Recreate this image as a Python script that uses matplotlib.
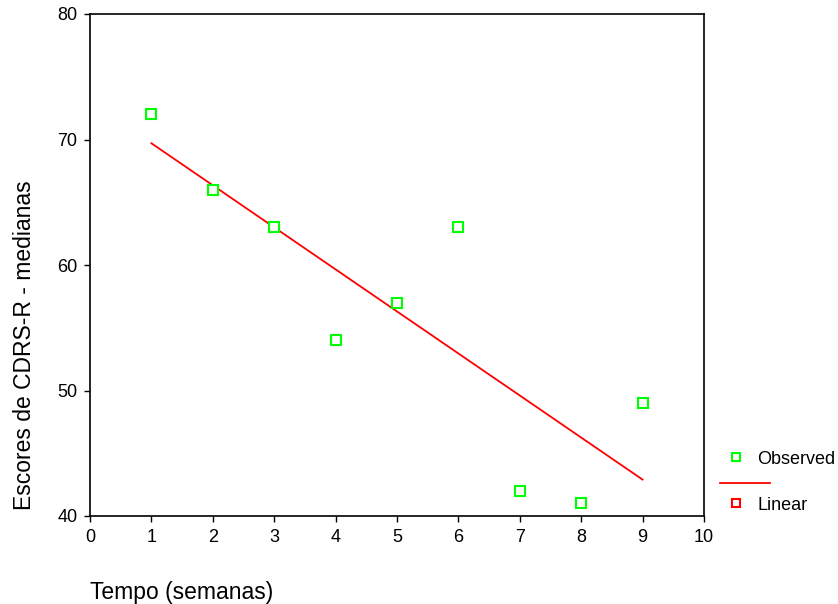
import matplotlib
matplotlib.use("Agg")
import matplotlib.pyplot as plt
from matplotlib.lines import Line2D

plt.rcParams['font.family'] = ['Liberation Sans', 'DejaVu Sans']

weeks = [1, 2, 3, 4, 5, 6, 7, 8, 9]
medians = [72, 66, 63, 54, 57, 63, 42, 41, 49]
fit_x = [1, 9]
fit_y = [69.7, 42.9]
x_ticks = [0, 1, 2, 3, 4, 5, 6, 7, 8, 9, 10]
y_ticks = [40, 50, 60, 70, 80]

fig = plt.figure(figsize=(8.38, 6.04), dpi=100)
ax = fig.add_axes([90/838, 1-516/604, (704-90)/838, (516-14)/604])

ax.plot(fit_x, fit_y, color='#ff0000', lw=1.3, zorder=2)
ax.plot(weeks, medians, ls='none', marker='s', ms=6.5, mfc='white', mec='#00ff00', mew=1.5, zorder=3)

ax.set_xlim(0, 10)
ax.set_ylim(40, 80)
ax.set_xticks(x_ticks)
ax.set_yticks(y_ticks)
ax.tick_params(direction='out', length=4, width=1, labelsize=13, color='black', pad=5)
for s in ax.spines.values():
    s.set_linewidth(1.2)
    s.set_color('black')

fig.text(25/838, 1-345/604, 'Escores de CDRS-R - medianas', rotation=90, fontsize=16.5,
         ha='center', va='center')
fig.text(90/838, 1-593/604, 'Tempo (semanas)', fontsize=16.5, ha='left', va='center')

# legend (custom layout)
fig.add_artist(Line2D([736/838], [1-457/604], marker='s', ms=5.5, mfc='white', mec='#00ff00', mew=1.5, ls='none', transform=fig.transFigure))
fig.text(757/838, 1-459/604, 'Observed', fontsize=13, ha='left', va='center')
fig.add_artist(Line2D([720/838, 770/838], [1-483/604, 1-483/604], color='#ff0000', lw=1.3, transform=fig.transFigure))
fig.add_artist(Line2D([736/838], [1-503/604], marker='s', ms=5.5, mfc='white', mec='#ff0000', mew=1.5, ls='none', transform=fig.transFigure))
fig.text(757/838, 1-505/604, 'Linear', fontsize=13, ha='left', va='center')

fig.savefig('out.png', dpi=100)
